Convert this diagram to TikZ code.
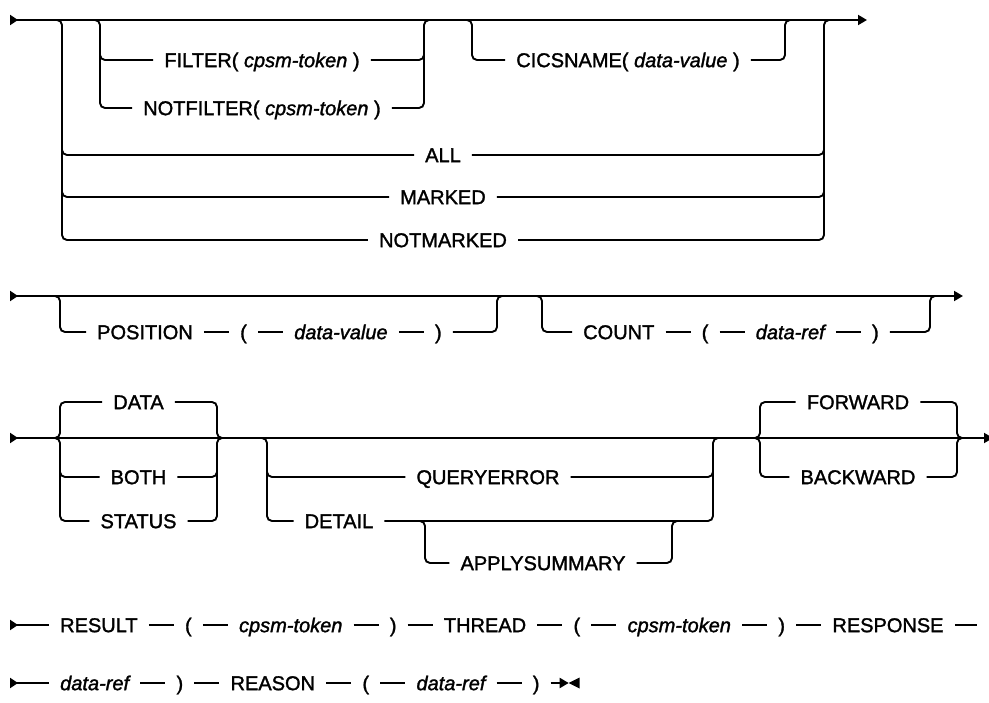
\documentclass[tikz,border=0pt]{standalone}
\usepackage{fontspec}
\setmainfont{Liberation Sans}[FakeBold=1.5]
\usepackage{tikz}
\usetikzlibrary{arrows.meta, positioning}

\tikzset{
  rail/.style={line width=1.9pt, rounded corners=5pt},
  kw/.style={inner xsep=11pt, inner ysep=0pt, text height=14.3pt, text depth=0pt,
    font=\fontsize{20pt}{24pt}\selectfont},
  var/.style={kw, font=\fontsize{20pt}{24pt}\selectfont\itshape},
  startrail/.style={rail, {Triangle[reversed, length=8pt, width=10pt]}-},
  endrail/.style={rail, -{Triangle[length=9pt, width=10pt]}},
  fullrail/.style={rail, {Triangle[reversed, length=8pt, width=10pt]}-{Triangle[length=9pt, width=10pt]}}
}

\begin{document}
\begin{tikzpicture}[x=1pt, y=-1pt, node distance=25pt]
                \useasboundingbox (0,0) rectangle (989,703);

                % Row 1: filter choices
                \coordinate (s1) at (10,20);
                \coordinate (e1) at (867,20);
                \draw[fullrail] (s1) -- (e1);
                \node[kw] (f1) at (262,60) {FILTER( \textit{cpsm-token} )};
                \node[kw] (f2) at (262,108) {NOTFILTER( \textit{cpsm-token} )};
                \node[kw] (cics) at (628,60) {CICSNAME( \textit{data-value} )};
                \node[kw] (all) at (443,155) {ALL};
                \node[kw] (marked) at (443,197) {MARKED};
                \node[kw] (notmarked) at (443,240) {NOTMARKED};
                \draw[rail] (50,20) -| (62,240) -- (notmarked.west);
                \draw[rail] (notmarked.east) -| (824,20) -- (836,20);
                \draw[rail] (62,140) |- (all.west);
                \draw[rail] (all.east) -| (824,140);
                \draw[rail] (62,180) |- (marked.west);
                \draw[rail] (marked.east) -| (824,180);
                \draw[rail] (90,20) -| (100,108) -- (f2.west);
                \draw[rail] (f2.east) -| (424,20) -- (434,20);
                \draw[rail] (100,45) |- (f1.west);
                \draw[rail] (f1.east) -| (424,45);
                \draw[rail] (462,20) -| (472,60) -- (cics.west);
                \draw[rail] (cics.east) -| (785,20) -- (795,20);

                % Row 2: position and count
                \coordinate (s2) at (10,296);
                \coordinate (e2) at (963,296);
                \draw[fullrail] (s2) -- (e2);
                \node[kw, anchor=west] (pos) at (86,332) {POSITION};
                \node[kw, right=of pos] (lp1) {(};
                \node[var, right=of lp1] (dv) {data-value};
                \node[kw, right=of dv] (rp1) {)};
                \draw[rail] (50,296) -| (60,332) -- (pos.west);
                \draw[rail] (pos) -- (lp1);
                \draw[rail] (lp1) -- (dv);
                \draw[rail] (dv) -- (rp1);
                \draw[rail] (rp1.east) -| (497,296) -- (507,296);
                \node[kw, anchor=west] (cnt) at (572,332) {COUNT};
                \node[kw, right=of cnt] (lp2) {(};
                \node[var, right=of lp2] (dr1) {data-ref};
                \node[kw, right=of dr1] (rp2) {)};
                \draw[rail] (532,296) -| (542,332) -- (cnt.west);
                \draw[rail] (cnt) -- (lp2);
                \draw[rail] (lp2) -- (dr1);
                \draw[rail] (dr1) -- (rp2);
                \draw[rail] (rp2.east) -| (930,296) -- (940,296);

                % Row 3: data, detail, direction
                \coordinate (s3) at (10,438);
                \coordinate (e3) at (993,438);
                \draw[fullrail] (s3) -- (e3);
                \node[kw] (data) at (138.5,402) {DATA};
                \node[kw] (both) at (138.5,477) {BOTH};
                \node[kw] (status) at (138.5,521) {STATUS};
                \draw[rail] (50,438) -| (60,402) -- (data.west);
                \draw[rail] (data.east) -| (217,438) -- (227,438);
                \draw[rail] (50,438) -| (60,521) -- (status.west);
                \draw[rail] (status.east) -| (217,438) -- (227,438);
                \draw[rail] (60,465) |- (both.west);
                \draw[rail] (both.east) -| (217,465);
                \node[kw] (qe) at (488,477) {QUERYERROR};
                \node[kw] (det) at (339,521) {DETAIL};
                \node[kw] (aps) at (543,563) {APPLYSUMMARY};
                \draw[rail] (257,438) -| (267,521) -- (det.west);
                \draw[rail] (det.east) -| (713,438) -- (723,438);
                \draw[rail] (267,465) |- (qe.west);
                \draw[rail] (qe.east) -| (713,465);
                \draw[rail] (415,521) -| (425,563) -- (aps.west);
                \draw[rail] (aps.east) -| (672,521) -- (682,521);
                \node[kw] (fwd) at (858,402) {FORWARD};
                \node[kw] (bwd) at (858,477) {BACKWARD};
                \draw[rail] (750,438) -| (760,402) -- (fwd.west);
                \draw[rail] (fwd.east) -| (957,438) -- (967,438);
                \draw[rail] (750,438) -| (760,477) -- (bwd.west);
                \draw[rail] (bwd.east) -| (957,438) -- (967,438);

                % Row 4: result, thread, response
                \coordinate (s5) at (10,625);
                \node[kw, anchor=west] (res) at (49,625) {RESULT};
                \node[kw, right=of res] (lp3) {(};
                \node[var, right=of lp3] (ct1) {cpsm-token};
                \node[kw, right=of ct1] (rp3) {)};
                \node[kw, right=of rp3] (thr) {THREAD};
                \node[kw, right=of thr] (lp4) {(};
                \node[var, right=of lp4] (ct2) {cpsm-token};
                \node[kw, right=of ct2] (rp4) {)};
                \node[kw, right=of rp4] (resp) {RESPONSE};
                \coordinate[right=22pt of resp] (e5);
                \draw[startrail] (s5) -- (res);
                \draw[rail] (res) -- (lp3);
                \draw[rail] (lp3) -- (ct1);
                \draw[rail] (ct1) -- (rp3);
                \draw[rail] (rp3) -- (thr);
                \draw[rail] (thr) -- (lp4);
                \draw[rail] (lp4) -- (ct2);
                \draw[rail] (ct2) -- (rp4);
                \draw[rail] (rp4) -- (resp);
                \draw[rail] (resp) -- (e5);

                % Row 5: response ref and reason
                \coordinate (s6) at (10,683);
                \node[var, anchor=west] (dr2) at (49,683) {data-ref};
                \node[kw, right=of dr2] (rp5) {)};
                \node[kw, right=of rp5] (rsn) {REASON};
                \node[kw, right=of rsn] (lp6) {(};
                \node[var, right=of lp6] (dr3) {data-ref};
                \node[kw, right=of dr3] (rp6) {)};
                \coordinate[right=18pt of rp6] (e6);
                \draw[startrail] (s6) -- (dr2);
                \draw[rail] (dr2) -- (rp5);
                \draw[rail] (rp5) -- (rsn);
                \draw[rail] (rsn) -- (lp6);
                \draw[rail] (lp6) -- (dr3);
                \draw[rail] (dr3) -- (rp6);
                \draw[endrail] (rp6) -- (e6);
                \fill (e6) -- ++(11,-5.5) -- ++(0,11) -- cycle; % end mark
\end{tikzpicture}
\end{document}
